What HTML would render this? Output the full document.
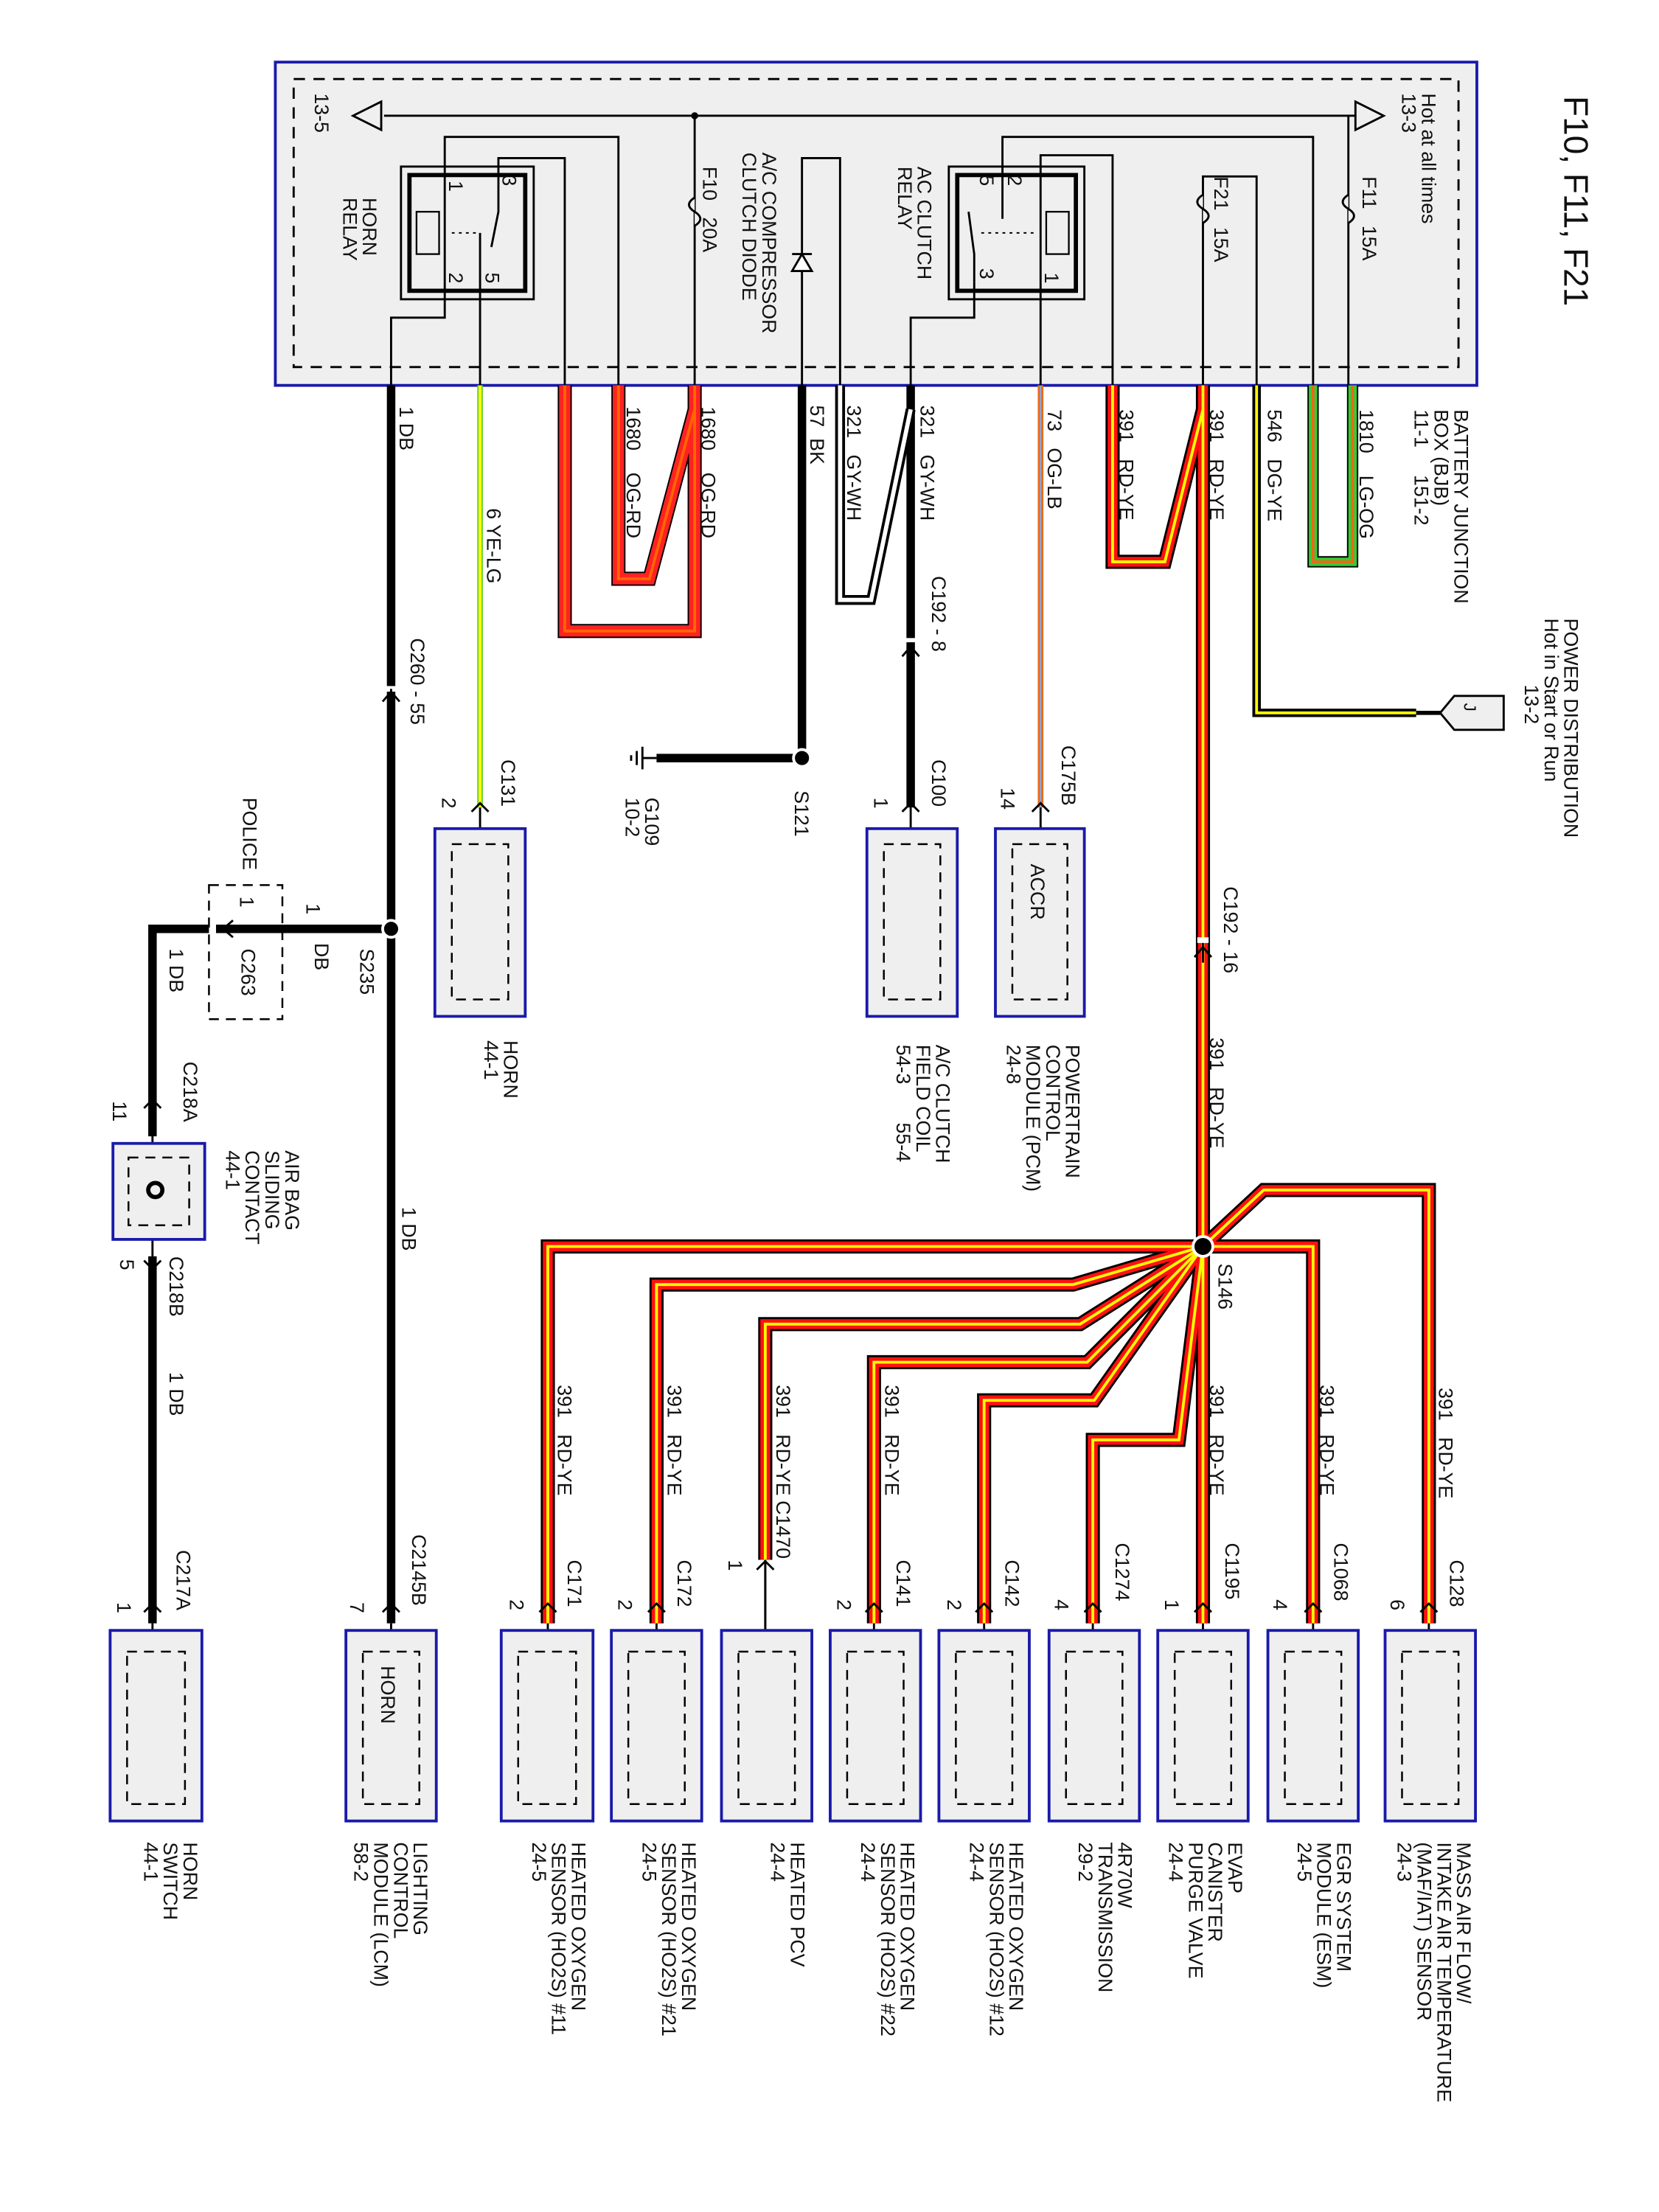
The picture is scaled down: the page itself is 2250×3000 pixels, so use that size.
<!DOCTYPE html>
<html><head><meta charset="utf-8"><style>
html,body{margin:0;padding:0;background:#fff}
svg{display:block}
text{font-family:"Liberation Sans",Arial,sans-serif;font-size:14px;fill:#111;white-space:pre}
</style></head><body>
<svg width="2250" height="3000" viewBox="0 0 1175 1567" preserveAspectRatio="none" xmlns="http://www.w3.org/2000/svg">
<defs>
<path id="w1680a" d="M400 273 V447 H492 V273" fill="none"/>
<path id="w1680b" d="M438 273 V410 H460 L492 290" fill="none"/>
<path id="w391a" d="M788 273 V398 H825 L852 290" fill="none"/>
<path id="w391main" d="M852 273 V883" fill="none"/>
<path id="b1" d="M852 883 L895 843 H1012 V1150" fill="none"/>
<path id="b2" d="M852 883 H930 V1150" fill="none"/>
<path id="b3" d="M852 883 V1150" fill="none"/>
<path id="b4" d="M852 883 L835 1020 H774 V1150" fill="none"/>
<path id="b5" d="M852 883 L775 992 H697 V1150" fill="none"/>
<path id="b6" d="M852 883 L770 965 H619 V1150" fill="none"/>
<path id="b7" d="M852 883 L765 938 H542 V1105" fill="none"/>
<path id="b8" d="M852 883 L760 910 H465 V1150" fill="none"/>
<path id="b9" d="M852 883 H388 V1150" fill="none"/>
<path id="w1810" d="M930 273 V398 H958 V273" fill="none"/>
<path id="w546" d="M890 273 V505 H1003" fill="none"/>
<path id="w321a" d="M595 273 V425 H617 L645 290" fill="none"/>
</defs>
<rect width="1175" height="1567" fill="#fff"/>

<rect x="195" y="44" width="851" height="229" fill="#efefef" stroke="#1a1aaa" stroke-width="2"/>
<rect x="208" y="56" width="825" height="204" fill="none" stroke="#000" stroke-width="1.5" stroke-dasharray="8,6"/>

<g fill="none" stroke="#000" stroke-width="1.5">
<path d="M272 82 H960"/>
<path d="M492 82 V273"/>
<path d="M315 128 V97 H438 V273"/>
<path d="M353 128 V112 H400 V273"/>
<path d="M340 175 V273"/>
<path d="M315 200 V225 H277 V273"/>
<path d="M568 273 V112 H595 V273"/>
<path d="M710 128 V97 H930 V273"/>
<path d="M737 200 V273"/>
<path d="M737 128 V110 H788 V273"/>
<path d="M690 200 V225 H645 V273"/>
<path d="M852 273 V125 H890 V273"/>
<path d="M955 82 V273"/>
</g>
<circle cx="492" cy="82" r="2.5"/>
<g fill="#efefef" stroke="#000" stroke-width="1.5">
<path d="M492 140 q-8 5 0 10 q8 5 0 10"/>
<path d="M852 138 q-8 5 0 10 q8 5 0 10"/>
<path d="M955 138 q-8 5 0 10 q8 5 0 10"/>
</g>
<path d="M561 192 H575 L568 180 Z" fill="#fff" stroke="#000" stroke-width="1.5"/>
<path d="M561 180 H575" stroke="#000" stroke-width="1.5"/>
<path d="M250 82 L270 72 V92 Z" fill="#efefef" stroke="#000" stroke-width="1.5"/>
<path d="M980 82 L960 72 V92 Z" fill="#efefef" stroke="#000" stroke-width="1.5"/>

<g fill="none" stroke="#000">
<rect x="284" y="118" width="94" height="94" stroke-width="1.5"/>
<rect x="290" y="124" width="82" height="82" stroke-width="3"/>
<path d="M315 128 V200" stroke-width="1.5"/>
<rect x="295" y="150" width="16" height="30" stroke-width="1.2"/>
<path d="M353 128 V150 L348 175 M340 165 V175" stroke-width="1.5"/>
<path d="M320 165 H340" stroke-dasharray="2,3"/>
</g>
<g fill="none" stroke="#000">
<rect x="672" y="118" width="96" height="94" stroke-width="1.5"/>
<rect x="678" y="124" width="84" height="82" stroke-width="3"/>
<path d="M737 128 V200" stroke-width="1.5"/>
<rect x="741" y="150" width="16" height="30" stroke-width="1.2"/>
<path d="M690 200 V180 L686 150 M710 128 V155" stroke-width="1.5"/>
<path d="M695 165 H735" stroke-dasharray="2,3"/>
</g>

<g fill="none">
<path d="M277 273 V1150" stroke="#000" stroke-width="6"/>
<path d="M277 658 H108 V805" stroke="#000" stroke-width="6"/>
<path d="M108 890 V1150" stroke="#000" stroke-width="6"/>
<path d="M568 273 V537 H465" stroke="#000" stroke-width="6"/>
<path d="M645 273 V572" stroke="#000" stroke-width="6"/>
<path d="M340 273 V572" stroke="#6c3" stroke-width="4"/>
<path d="M340 273 V572" stroke="#ff0" stroke-width="2"/>
<path d="M737 273 V572" stroke="#e86a1a" stroke-width="4"/>
<path d="M737 273 V572" stroke="#88aadd" stroke-width="1"/>
<use href="#w321a" stroke="#000" stroke-width="7"/>
<use href="#w321a" stroke="#fff" stroke-width="3"/>
<use href="#w546" stroke="#000" stroke-width="6"/>
<use href="#w546" stroke="#ff0" stroke-width="2"/>
<path d="M1003 505 H1020" stroke="#000" stroke-width="3"/>
<use href="#w1810" stroke="#000" stroke-width="8"/>
<use href="#w1810" stroke="#3c3" stroke-width="6"/>
<use href="#w1810" stroke="#e86a1a" stroke-width="2"/>
<g stroke="#000" stroke-width="10"><use href="#w1680a"/><use href="#w1680b"/></g>
<g stroke="#f22" stroke-width="8"><use href="#w1680a"/><use href="#w1680b"/></g>
<g stroke="#f60" stroke-width="2"><use href="#w1680a"/><use href="#w1680b"/></g>
<g stroke="#000" stroke-width="10"><use href="#w391a"/><use href="#w391main"/><use href="#b1"/><use href="#b2"/><use href="#b3"/><use href="#b4"/><use href="#b5"/><use href="#b6"/><use href="#b7"/><use href="#b8"/><use href="#b9"/></g>
<g stroke="#f11" stroke-width="7"><use href="#w391a"/><use href="#w391main"/><use href="#b1"/><use href="#b2"/><use href="#b3"/><use href="#b4"/><use href="#b5"/><use href="#b6"/><use href="#b7"/><use href="#b8"/><use href="#b9"/></g>
<g stroke="#ff0" stroke-width="2"><use href="#w391a"/><use href="#w391main"/><use href="#b1"/><use href="#b2"/><use href="#b3"/><use href="#b4"/><use href="#b5"/><use href="#b6"/><use href="#b7"/><use href="#b8"/><use href="#b9"/></g>
<path d="M542 1105 V1150" stroke="#000" stroke-width="1.5"/>
</g>

<circle cx="852" cy="883" r="7" fill="#000" stroke="#fff" stroke-width="2"/>
<circle cx="277" cy="658" r="6" fill="#000" stroke="#fff" stroke-width="2"/>
<circle cx="568" cy="537" r="6" fill="#000" stroke="#fff" stroke-width="2"/>
<g stroke="#000" stroke-width="1.5"><path d="M465 537 H455 M455 529 V545 M451 532 V542 M447 535 V539"/></g>
<path d="M1020 505 L1030 493 H1065 V517 H1030 Z" fill="#efefef" stroke="#000" stroke-width="1.5"/>

<g fill="#fff"><rect x="273" y="486" width="8" height="4"/><rect x="641" y="452" width="8" height="3"/><rect x="848" y="664" width="8" height="4"/><rect x="148" y="654" width="5" height="8"/></g>
<g fill="none" stroke="#000" stroke-width="1.5">
<path d="M277 488 V500 M271 497 L277 490 L283 497"/>
<path d="M645 455 V468 M639 465 L645 458 L651 465"/>
<path d="M852 668 V682 M846 678 L852 671 L858 678"/>
<path d="M155 658 H168 M165 652 L158 658 L165 664"/>
</g>
<g fill="none" stroke="#000" stroke-width="1.5">
<path d="M340 572 V598 H330 M334 575 L340 569 L346 575"/>
<path d="M645 572 V598 H635 M639 575 L645 569 L651 575"/>
<path d="M737 572 V598 H727 M731 575 L737 569 L743 575"/>
<path d="M102 785 L108 779 L114 785 M108 779 V900 M102 893 L108 899 L114 893"/>
<path d="M108 1150 V1175 M102 1142 L108 1136 L114 1142"/>
<path d="M277 1150 V1175 M271 1142 L277 1136 L283 1142"/>
<path d="M542 1105 V1165 M536 1112 L542 1106 L548 1112"/>
<path d="M388 1150 V1170 H378 M382 1142 L388 1136 L394 1142"/>
<path d="M465 1150 V1170 H455 M459 1142 L465 1136 L471 1142"/>
<path d="M542 1150 V1170 H532"/>
<path d="M619 1150 V1170 H609 M613 1142 L619 1136 L625 1142"/>
<path d="M697 1150 V1170 H687 M691 1142 L697 1136 L703 1142"/>
<path d="M774 1150 V1170 H764 M768 1142 L774 1136 L780 1142"/>
<path d="M852 1150 V1170 H842 M846 1142 L852 1136 L858 1142"/>
<path d="M930 1150 V1170 H920 M924 1142 L930 1136 L936 1142"/>
<path d="M1012 1150 V1170 H1002 M1006 1142 L1012 1136 L1018 1142"/>
</g>

<g fill="#efefef" stroke="#1a1aaa" stroke-width="2">
<rect x="308" y="587" width="64" height="133"/>
<rect x="614" y="587" width="64" height="133"/>
<rect x="705" y="587" width="63" height="133"/>
<rect x="80" y="810" width="65" height="68"/>
<rect x="78" y="1155" width="65" height="135"/>
<rect x="245" y="1155" width="64" height="135"/>
<rect x="355" y="1155" width="65" height="135"/>
<rect x="433" y="1155" width="64" height="135"/>
<rect x="511" y="1155" width="64" height="135"/>
<rect x="588" y="1155" width="64" height="135"/>
<rect x="665" y="1155" width="64" height="135"/>
<rect x="743" y="1155" width="64" height="135"/>
<rect x="820" y="1155" width="64" height="135"/>
<rect x="898" y="1155" width="64" height="135"/>
<rect x="981" y="1155" width="64" height="135"/>
</g>
<g fill="none" stroke="#000" stroke-width="1.3" stroke-dasharray="7,5">
<rect x="320" y="598" width="40" height="110"/>
<rect x="626" y="598" width="40" height="110"/>
<rect x="717" y="598" width="39" height="110"/>
<rect x="91" y="820" width="43" height="48"/>
<rect x="90" y="1170" width="41" height="108"/>
<rect x="257" y="1170" width="40" height="108"/>
<rect x="367" y="1170" width="41" height="108"/>
<rect x="445" y="1170" width="40" height="108"/>
<rect x="523" y="1170" width="40" height="108"/>
<rect x="600" y="1170" width="40" height="108"/>
<rect x="677" y="1170" width="40" height="108"/>
<rect x="755" y="1170" width="40" height="108"/>
<rect x="832" y="1170" width="40" height="108"/>
<rect x="910" y="1170" width="40" height="108"/>
<rect x="993" y="1170" width="40" height="108"/>
<rect x="148" y="627" width="52" height="95"/>
</g>
<circle cx="110" cy="843" r="5" fill="none" stroke="#000" stroke-width="3"/>

<g>
<text transform="translate(1108,68) rotate(90)" style="font-size:24px">F10, F11, F21</text>
<text transform="translate(1007,66) rotate(90)">Hot at all times</text>
<text transform="translate(993,66) rotate(90)">13-3</text>
<text transform="translate(223,66) rotate(90)">13-5</text>
<text transform="translate(965,125) rotate(90)">F11   15A</text>
<text transform="translate(860,125) rotate(90)">F21   15A</text>
<text transform="translate(650,118) rotate(90)">AC CLUTCH</text>
<text transform="translate(636,118) rotate(90)">RELAY</text>
<text transform="translate(540,108) rotate(90)">A/C COMPRESSOR</text>
<text transform="translate(526,108) rotate(90)">CLUTCH DIODE</text>
<text transform="translate(498,118) rotate(90)">F10   20A</text>
<text transform="translate(257,140) rotate(90)">HORN</text>
<text transform="translate(243,140) rotate(90)">RELAY</text>
<g style="font-size:11px">
<text transform="translate(318,128) rotate(90)">1</text>
<text transform="translate(356,124) rotate(90)">3</text>
<text transform="translate(318,193) rotate(90)">2</text>
<text transform="translate(344,193) rotate(90)">5</text>
<text transform="translate(714,124) rotate(90)">2</text>
<text transform="translate(694,124) rotate(90)">5</text>
<text transform="translate(694,190) rotate(90)">3</text>
<text transform="translate(740,193) rotate(90)">1</text>
</g>
<text transform="translate(283,288) rotate(90)">1 DB</text>
<text transform="translate(345,360) rotate(90)">6 YE-LG</text>
<text transform="translate(444,288) rotate(90)">1680    OG-RD</text>
<text transform="translate(497,288) rotate(90)">1680    OG-RD</text>
<text transform="translate(574,287) rotate(90)">57  BK</text>
<text transform="translate(600,287) rotate(90)">321   GY-WH</text>
<text transform="translate(652,287) rotate(90)">321   GY-WH</text>
<text transform="translate(742,290) rotate(90)">73   OG-LB</text>
<text transform="translate(793,290) rotate(90)">391   RD-YE</text>
<text transform="translate(857,290) rotate(90)">391   RD-YE</text>
<text transform="translate(898,290) rotate(90)">546   DG-YE</text>
<text transform="translate(963,290) rotate(90)">1810    LG-OG</text>
<text transform="translate(1030,290) rotate(90)">BATTERY JUNCTION</text>
<text transform="translate(1016,290) rotate(90)">BOX (BJB)</text>
<text transform="translate(1002,290) rotate(90)">11-1     151-2</text>
<text transform="translate(1108,438) rotate(90)">POWER DISTRIBUTION</text>
<text transform="translate(1094,438) rotate(90)">Hot in Start or Run</text>
<text transform="translate(1080,485) rotate(90)">13-2</text>
<text transform="translate(1037,498) rotate(90)" style="font-size:12px">J</text>
<text transform="translate(660,408) rotate(90)">C192 - 8</text>
<text transform="translate(291,452) rotate(90)">C260 - 55</text>
<text transform="translate(355,538) rotate(90)">C131</text>
<text transform="translate(313,565) rotate(90)">2</text>
<text transform="translate(457,565) rotate(90)">G109</text>
<text transform="translate(443,565) rotate(90)">10-2</text>
<text transform="translate(563,560) rotate(90)">S121</text>
<text transform="translate(660,538) rotate(90)">C100</text>
<text transform="translate(619,565) rotate(90)">1</text>
<text transform="translate(752,528) rotate(90)">C175B</text>
<text transform="translate(709,558) rotate(90)">14</text>
<text transform="translate(867,628) rotate(90)">C192 - 16</text>
<text transform="translate(857,735) rotate(90)">391   RD-YE</text>
<text transform="translate(863,895) rotate(90)">S146</text>
<text transform="translate(730,612) rotate(90)">ACCR</text>
<text transform="translate(357,737) rotate(90)">HORN</text>
<text transform="translate(343,737) rotate(90)">44-1</text>
<text transform="translate(663,740) rotate(90)">A/C CLUTCH</text>
<text transform="translate(649,740) rotate(90)">FIELD COIL</text>
<text transform="translate(635,740) rotate(90)">54-3       55-4</text>
<text transform="translate(755,740) rotate(90)">POWERTRAIN</text>
<text transform="translate(741,740) rotate(90)">CONTROL</text>
<text transform="translate(727,740) rotate(90)">MODULE (PCM)</text>
<text transform="translate(713,740) rotate(90)">24-8</text>
<text transform="translate(172,565) rotate(90)">POLICE</text>
<text transform="translate(170,635) rotate(90)">1</text>
<text transform="translate(217,640) rotate(90)">1</text>
<text transform="translate(223,668) rotate(90)">DB</text>
<text transform="translate(171,672) rotate(90)">C263</text>
<text transform="translate(255,672) rotate(90)">S235</text>
<text transform="translate(120,672) rotate(90)">1 DB</text>
<text transform="translate(130,752) rotate(90)">C218A</text>
<text transform="translate(80,780) rotate(90)">11</text>
<text transform="translate(202,815) rotate(90)">AIR BAG</text>
<text transform="translate(188,815) rotate(90)">SLIDING</text>
<text transform="translate(174,815) rotate(90)">CONTACT</text>
<text transform="translate(160,815) rotate(90)">44-1</text>
<text transform="translate(120,890) rotate(90)">C218B</text>
<text transform="translate(85,892) rotate(90)">5</text>
<text transform="translate(120,972) rotate(90)">1 DB</text>
<text transform="translate(125,1098) rotate(90)">C217A</text>
<text transform="translate(83,1135) rotate(90)">1</text>
<text transform="translate(285,855) rotate(90)">1 DB</text>
<text transform="translate(292,1087) rotate(90)">C2145B</text>
<text transform="translate(248,1135) rotate(90)">7</text>
<text transform="translate(270,1180) rotate(90)">HORN</text>
<text transform="translate(395,981) rotate(90)">391   RD-YE</text>
<text transform="translate(473,981) rotate(90)">391   RD-YE</text>
<text transform="translate(550,981) rotate(90)">391   RD-YE</text>
<text transform="translate(550,1063) rotate(90)">C1470</text>
<text transform="translate(627,981) rotate(90)">391   RD-YE</text>
<text transform="translate(857,981) rotate(90)">391   RD-YE</text>
<text transform="translate(935,981) rotate(90)">391   RD-YE</text>
<text transform="translate(1019,983) rotate(90)">391   RD-YE</text>
<text transform="translate(402,1105) rotate(90)">C171</text>
<text transform="translate(480,1105) rotate(90)">C172</text>
<text transform="translate(635,1105) rotate(90)">C141</text>
<text transform="translate(712,1105) rotate(90)">C142</text>
<text transform="translate(790,1093) rotate(90)">C1274</text>
<text transform="translate(868,1093) rotate(90)">C1195</text>
<text transform="translate(945,1093) rotate(90)">C1068</text>
<text transform="translate(1027,1105) rotate(90)">C128</text>
<text transform="translate(361,1133) rotate(90)">2</text>
<text transform="translate(438,1133) rotate(90)">2</text>
<text transform="translate(516,1105) rotate(90)">1</text>
<text transform="translate(593,1133) rotate(90)">2</text>
<text transform="translate(671,1133) rotate(90)">2</text>
<text transform="translate(747,1133) rotate(90)">4</text>
<text transform="translate(825,1133) rotate(90)">1</text>
<text transform="translate(902,1133) rotate(90)">4</text>
<text transform="translate(985,1133) rotate(90)">6</text>
<text transform="translate(130,1305) rotate(90)">HORN</text>
<text transform="translate(116,1305) rotate(90)">SWITCH</text>
<text transform="translate(102,1305) rotate(90)">44-1</text>
<text transform="translate(293,1305) rotate(90)">LIGHTING</text>
<text transform="translate(279,1305) rotate(90)">CONTROL</text>
<text transform="translate(265,1305) rotate(90)">MODULE (LCM)</text>
<text transform="translate(251,1305) rotate(90)">58-2</text>
<text transform="translate(405,1305) rotate(90)">HEATED OXYGEN</text>
<text transform="translate(391,1305) rotate(90)">SENSOR (HO2S) #11</text>
<text transform="translate(377,1305) rotate(90)">24-5</text>
<text transform="translate(483,1305) rotate(90)">HEATED OXYGEN</text>
<text transform="translate(469,1305) rotate(90)">SENSOR (HO2S) #21</text>
<text transform="translate(455,1305) rotate(90)">24-5</text>
<text transform="translate(560,1305) rotate(90)">HEATED PCV</text>
<text transform="translate(546,1305) rotate(90)">24-4</text>
<text transform="translate(638,1305) rotate(90)">HEATED OXYGEN</text>
<text transform="translate(624,1305) rotate(90)">SENSOR (HO2S) #22</text>
<text transform="translate(610,1305) rotate(90)">24-4</text>
<text transform="translate(715,1305) rotate(90)">HEATED OXYGEN</text>
<text transform="translate(701,1305) rotate(90)">SENSOR (HO2S) #12</text>
<text transform="translate(687,1305) rotate(90)">24-4</text>
<text transform="translate(792,1305) rotate(90)">4R70W</text>
<text transform="translate(778,1305) rotate(90)">TRANSMISSION</text>
<text transform="translate(764,1305) rotate(90)">29-2</text>
<text transform="translate(870,1305) rotate(90)">EVAP</text>
<text transform="translate(856,1305) rotate(90)">CANISTER</text>
<text transform="translate(842,1305) rotate(90)">PURGE VALVE</text>
<text transform="translate(828,1305) rotate(90)">24-4</text>
<text transform="translate(947,1305) rotate(90)">EGR SYSTEM</text>
<text transform="translate(933,1305) rotate(90)">MODULE (ESM)</text>
<text transform="translate(919,1305) rotate(90)">24-5</text>
<text transform="translate(1032,1305) rotate(90)">MASS AIR FLOW/</text>
<text transform="translate(1018,1305) rotate(90)">INTAKE AIR TEMPERATURE</text>
<text transform="translate(1004,1305) rotate(90)">(MAF/IAT) SENSOR</text>
<text transform="translate(990,1305) rotate(90)">24-3</text>
</g>
</svg>
</body></html>
